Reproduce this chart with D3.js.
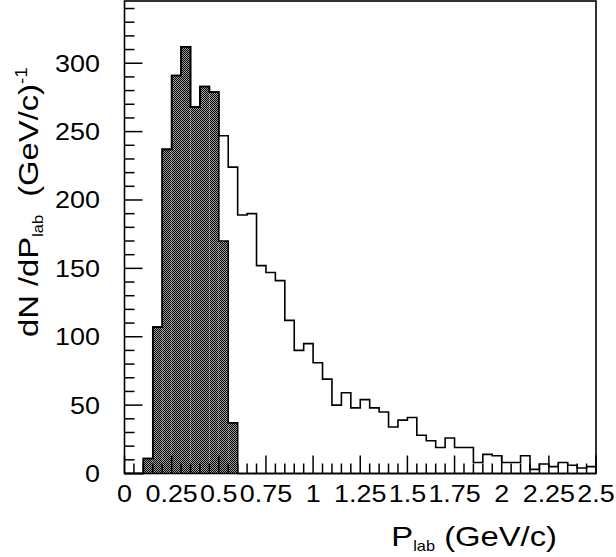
<!DOCTYPE html>
<html>
<head>
<meta charset="utf-8">
<script src="https://cdn.jsdelivr.net/npm/d3@7"></script>
<style>
  html, body { margin: 0; padding: 0; background: #fff; }
  svg { display: block; }
  text { font-family: "Liberation Sans", Arial, Helvetica, sans-serif; fill: #000; }
</style>
</head>
<body>
<svg id="chart" width="616" height="557"></svg>
<script>
// ---- data ----
const binEdges = [0.00,0.05,0.10,0.15,0.20,0.25,0.30,0.35,0.40,0.45,
                  0.50,0.55,0.60,0.65,0.70,0.75,0.80,0.85,0.90,0.95,
                  1.00,1.05,1.10,1.15,1.20,1.25,1.30,1.35,1.40,1.45,
                  1.50,1.55,1.60,1.65,1.70,1.75,1.80,1.85,1.90,1.95,
                  2.00,2.05,2.10,2.15,2.20,2.25,2.30,2.35,2.40,2.45,2.50];
const totalCounts = [0,0,11,107,237,291,312,268,283,279,
                     247,224,189,190,152,147,141,112,90,95,
                     81,69,50,59,48,54,48,45,34,39,
                     41,28,24,19,26,19,19,8,14,13,
                     8,8,13,3,7,5,8,6,4,5];
const shadedCounts = [0,0,11,107,237,291,312,268,283,279,
                      170,37,0,0,0,0,0,0,0,0,
                      0,0,0,0,0,0,0,0,0,0,
                      0,0,0,0,0,0,0,0,0,0,
                      0,0,0,0,0,0,0,0,0,0];
const xTickValues = [0,0.25,0.5,0.75,1,1.25,1.5,1.75,2,2.25,2.5];
const xTickLabels = ["0","0.25","0.5","0.75","1","1.25","1.5","1.75","2","2.25","2.5"];
const yTickValues = [0,50,100,150,200,250,300];
const yTickLabels = ["0","50","100","150","200","250","300"];

// ---- layout ----
const pL = 124.5, pR = 596, pT = 1, pB = 473.5;
const svg = d3.select("#chart");
const x = d3.scaleLinear().domain([0, 2.5]).range([pL, pR]);
const y = d3.scaleLinear().domain([0, 345.5]).range([pB, pT]);

// pattern for shaded histogram
const defs = svg.append("defs");
const pat = defs.append("pattern").attr("id","checker")
  .attr("patternUnits","userSpaceOnUse").attr("width",2).attr("height",2);
pat.append("rect").attr("width",2).attr("height",2).attr("fill","#a0a0a0");
pat.append("rect").attr("x",0).attr("y",0).attr("width",1).attr("height",1).attr("fill","#000");
pat.append("rect").attr("x",1).attr("y",1).attr("width",1).attr("height",1).attr("fill","#000");

function stepPath(counts) {
  const pts = [];
  pts.push([x(binEdges[0]), y(0)]);
  for (let i = 0; i < counts.length; i++) {
    pts.push([x(binEdges[i]), y(counts[i])]);
    pts.push([x(binEdges[i+1]), y(counts[i])]);
  }
  pts.push([x(binEdges[counts.length]), y(0)]);
  return d3.line()(pts);
}

// shaded bars
svg.append("g").selectAll("rect").data(shadedCounts.map((c,i)=>({c,i})).filter(d=>d.c>0))
  .join("rect")
  .attr("x", d => x(binEdges[d.i]))
  .attr("y", d => y(d.c))
  .attr("width", d => x(binEdges[d.i+1]) - x(binEdges[d.i]))
  .attr("height", d => y(0) - y(d.c))
  .attr("fill", "url(#checker)");
svg.append("path").attr("d", stepPath(shadedCounts))
  .attr("fill","none").attr("stroke","#000").attr("stroke-width",1.6);

// open histogram
svg.append("path").attr("d", stepPath(totalCounts))
  .attr("fill","none").attr("stroke","#000").attr("stroke-width",1.6);

// frame
svg.append("rect").attr("x",pL).attr("y",pT).attr("width",pR-pL).attr("height",pB-pT)
  .attr("fill","none").attr("stroke","#000").attr("stroke-width",1.6);

// y axis ticks (inward)
const yMinor = d3.range(0, 341, 10);
svg.append("g").selectAll("line").data(yMinor).join("line")
  .attr("x1", pL).attr("x2", d => pL + (d % 50 === 0 ? 18 : 10))
  .attr("y1", d => y(d)).attr("y2", d => y(d))
  .attr("stroke","#000").attr("stroke-width",1.5);
svg.append("g").selectAll("text").data(yTickValues).join("text")
  .attr("transform", d => `translate(100,${y(d)+8.5}) scale(1.17,1)`)
  .attr("text-anchor","end").attr("font-size",23)
  .text((d,i) => yTickLabels[i]);

// x axis ticks (inward)
const xMinor = d3.range(0, 51).map(i => i*0.05);
svg.append("g").selectAll("line").data(xMinor).join("line")
  .attr("x1", d => x(d)).attr("x2", d => x(d))
  .attr("y1", pB).attr("y2", (d,i) => pB - (i % 5 === 0 ? 18 : 10))
  .attr("stroke","#000").attr("stroke-width",1.5);
svg.append("g").selectAll("text").data(xTickValues).join("text")
  .attr("transform", d => `translate(${x(d)},501.5) scale(1.17,1)`)
  .attr("text-anchor","middle").attr("font-size",23)
  .text((d,i) => xTickLabels[i]);

// y title
const yt = svg.append("text")
  .attr("transform","translate(38,337) rotate(-90) scale(1.17,1)")
  .attr("font-size",28);
yt.append("tspan").text("dN /dP");
yt.append("tspan").attr("font-size",14).attr("dy",5).text("lab");
yt.append("tspan").attr("dy",-5).text("\u00a0 (GeV/c)");
yt.append("tspan").attr("font-size",16).attr("dy",-11).text("-1");

// x title
const xt = svg.append("text")
  .attr("transform","translate(557,546) scale(1.17,1)")
  .attr("text-anchor","end").attr("font-size",28);
xt.append("tspan").text("P");
xt.append("tspan").attr("font-size",14).attr("dy",5).text("lab");
xt.append("tspan").attr("dy",-5).text(" (GeV/c)");
</script>
</body>
</html>
